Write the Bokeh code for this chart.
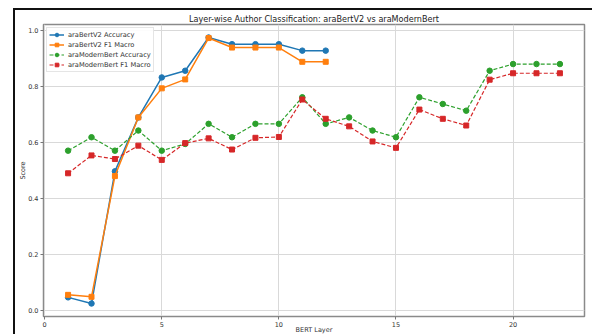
from bokeh.plotting import figure
from bokeh.models import Range1d, Legend, CustomJSTickFormatter
from bokeh.embed import file_html
from bokeh.resources import INLINE

bert_layers = [1, 2, 3, 4, 5, 6, 7, 8, 9, 10, 11, 12]
bert_acc = [0.046, 0.024, 0.497, 0.690, 0.833, 0.857, 0.976, 0.952, 0.952, 0.952, 0.929, 0.929]
bert_f1 = [0.055, 0.048, 0.480, 0.690, 0.794, 0.826, 0.974, 0.940, 0.940, 0.940, 0.889, 0.889]

modern_layers = list(range(1, 23))
modern_acc = [0.571, 0.619, 0.571, 0.643, 0.571, 0.595, 0.667, 0.619, 0.667, 0.667, 0.762,
              0.667, 0.690, 0.643, 0.619, 0.762, 0.738, 0.714, 0.857, 0.881, 0.881, 0.881]
modern_f1 = [0.490, 0.554, 0.541, 0.589, 0.538, 0.598, 0.615, 0.575, 0.617, 0.620, 0.754,
             0.685, 0.658, 0.604, 0.581, 0.718, 0.685, 0.661, 0.825, 0.848, 0.848, 0.848]

title_text = "Layer-wise Author Classification: araBertV2 vs araModernBert"
x_label = "BERT Layer"
y_label = "Score"
x_ticks = [0, 5, 10, 15, 20]
y_ticks = [0.0, 0.2, 0.4, 0.6, 0.8, 1.0]

FONT = "DejaVu Sans"

p = figure(width=579, height=326, output_backend="svg", toolbar_location=None,
           x_range=Range1d(-0.05, 23.05), y_range=Range1d(-0.0225, 1.0225),
           min_border_left=28, min_border_right=10, min_border_top=14, min_border_bottom=19,
           styles={"margin-left": "13px", "margin-top": "8px",
                   "border-left": "2px solid #111111", "border-top": "2px solid #111111"})

p.title.text = title_text
p.title.text_font = FONT
p.title.text_font_size = "8.1px"
p.title.text_font_style = "normal"
p.title.text_color = "#222222"
p.title.align = "center"
p.title.standoff = 2

p.outline_line_color = "#8a8a8a"
p.outline_line_width = 1.5

for ax in (p.xaxis[0], p.yaxis[0]):
    ax.axis_line_color = "#8a8a8a"
    ax.major_tick_line_color = "#777777"
    ax.major_tick_in = 0
    ax.major_tick_out = 3
    ax.minor_tick_line_color = None
    ax.major_label_text_font = FONT
    ax.major_label_text_font_size = "6.5px"
    ax.major_label_text_color = "#333333"
    ax.major_label_standoff = 2
    ax.axis_label_text_font = FONT
    ax.axis_label_text_font_size = "6.5px"
    ax.axis_label_text_font_style = "normal"
    ax.axis_label_text_color = "#333333"

p.xaxis.ticker = x_ticks
p.yaxis.ticker = y_ticks
p.yaxis.formatter = CustomJSTickFormatter(code="return tick.toFixed(1);")

p.xaxis.axis_label = x_label
p.xaxis.axis_label_standoff = -4
p.yaxis.axis_label = y_label
p.yaxis.axis_label_standoff = -2

p.xgrid.ticker = x_ticks
p.ygrid.ticker = y_ticks
p.grid.grid_line_color = "#d9d9d9"
p.grid.grid_line_width = 1

c_blue, c_orange, c_green, c_red = "#1f77b4", "#ff7f0e", "#2ca02c", "#d62728"

r1 = p.line(bert_layers, bert_acc, line_color=c_blue, line_width=1.5)
s1 = p.scatter(bert_layers, bert_acc, marker="circle", size=5.5, color=c_blue)
r2 = p.line(bert_layers, bert_f1, line_color=c_orange, line_width=1.5)
s2 = p.scatter(bert_layers, bert_f1, marker="square", size=5, color=c_orange)
r3 = p.line(modern_layers, modern_acc, line_color=c_green, line_width=1.2, line_dash="4 2")
s3 = p.scatter(modern_layers, modern_acc, marker="circle", size=5.5, color=c_green)
r4 = p.line(modern_layers, modern_f1, line_color=c_red, line_width=1.2, line_dash="4 2")
s4 = p.scatter(modern_layers, modern_f1, marker="square", size=5, color=c_red)

legend = Legend(items=[("araBertV2 Accuracy", [r1, s1]), ("araBertV2 F1 Macro", [r2, s2]),
                       ("araModernBert Accuracy", [r3, s3]), ("araModernBert F1 Macro", [r4, s4])],
                location="top_left")
legend.label_text_font = FONT
legend.label_text_font_size = "6.7px"
legend.label_text_color = "#333333"
legend.label_height = 9
legend.glyph_height = 9
legend.glyph_width = 15
legend.spacing = 1
legend.padding = 2
legend.margin = 3
legend.label_standoff = 4
legend.border_line_color = "#cccccc"
legend.border_line_width = 1
legend.background_fill_alpha = 0.9
p.add_layout(legend)

open("out.html", "w").write(file_html(p, INLINE))
